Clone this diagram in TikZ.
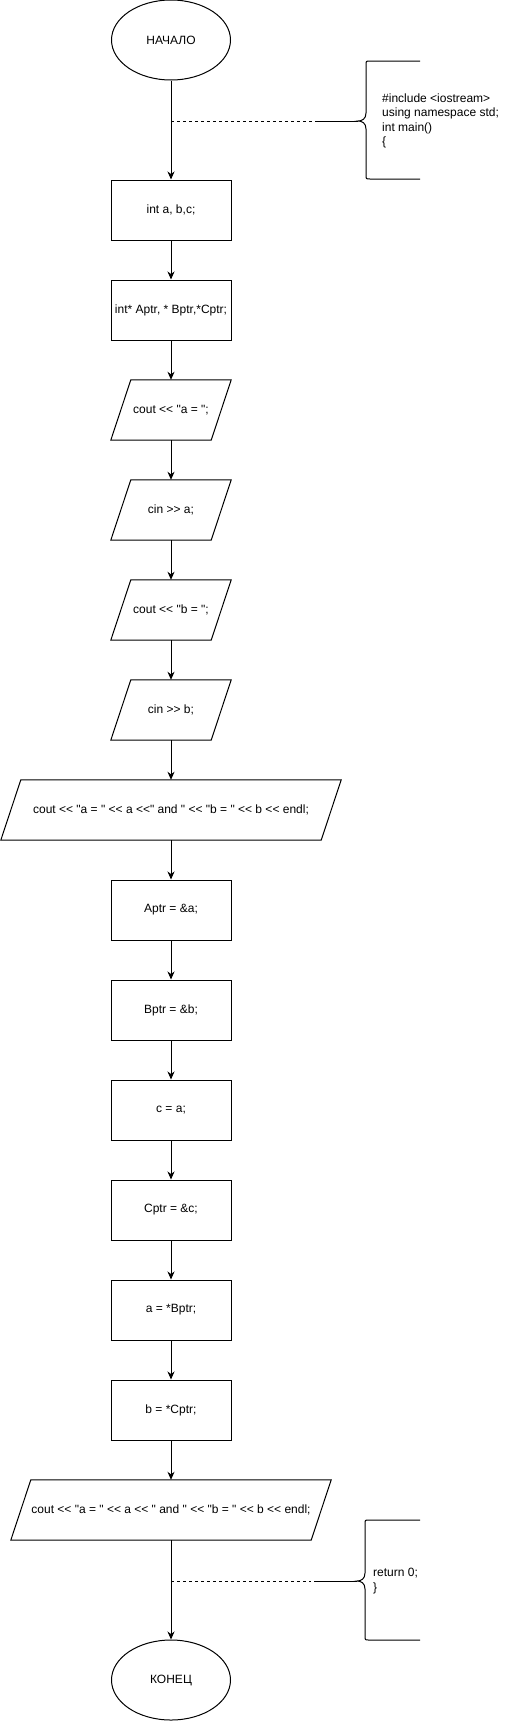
\documentclass[tikz,border=0pt]{standalone}
\usepackage{fontspec}
\newfontfamily\dfont{Liberation Sans}
\usetikzlibrary{shapes.geometric,arrows.meta}
\begin{document}
\begin{tikzpicture}[x=1pt,y=-1pt,
  every node/.style={font=\dfont\fontsize{12}{14.4}\selectfont, inner sep=0pt},
  proc/.style={draw, line width=1pt, minimum width=120pt, minimum height=60pt},
  term/.style={draw, ellipse, line width=1pt, minimum width=119pt, minimum height=80pt},
  io/.style={minimum width=120pt, minimum height=60pt},
  arr/.style={line width=1pt, -{Stealth[length=8pt,width=7pt,inset=2.5pt]}},
  ln/.style={line width=1pt},
  dsh/.style={line width=1pt, dash pattern=on 3pt off 3pt}]
\useasboundingbox (0,0) rectangle (531,1721);

\node[term] (start) at (171,40) {НАЧАЛО};
\node[proc] (s1) at (171,210) {int a, b,c;};
\node[proc] (s2) at (171,310) {int* Aptr, * Bptr,*Cptr;};
\node[io] (s3) at (171,410) {cout << "a = ";};
\node[io] (s4) at (171,510) {cin >> a;};
\node[io] (s5) at (171,610) {cout << "b = ";};
\node[io] (s6) at (171,710) {cin >> b;};
\node[io, minimum width=340pt] (s7) at (171,810) {cout << "a = " << a <<" and " << "b = " << b << endl;};
\node[proc] (s8) at (171,910) {Aptr = \&a;};
\node[proc] (s9) at (171,1010) {Bptr = \&b;};
\node[proc] (s10) at (171,1110) {c = a;};
\node[proc] (s11) at (171,1210) {Cptr = \&c;};
\node[proc] (s12) at (171,1310) {a = *Bptr;};
\node[proc] (s13) at (171,1410) {b = *Cptr;};
\node[io, minimum width=320pt] (s14) at (171,1510) {cout << "a = " << a << " and " << "b = " << b << endl;};
\node[term] (end) at (171,1680) {КОНЕЦ};

\foreach \n in {s3,s4,s5,s6,s7,s14}
  \draw[ln] ([xshift=20pt]\n.north west) -- (\n.north east) -- ([xshift=-20pt]\n.south east) -- (\n.south west) -- cycle;

\draw[arr] (start) -- (s1);
\foreach \a/\b in {s1/s2,s2/s3,s3/s4,s4/s5,s5/s6,s6/s7,s7/s8,s8/s9,s9/s10,s10/s11,s11/s12,s12/s13,s13/s14,s14/end}
  \draw[arr] (\a) -- (\b);

% top annotation
\coordinate (d1) at (171,121);
\coordinate (d1e) at (312,121);
\coordinate (b1s) at (315,121);
\coordinate (b1t) at (358,121);
\draw[dsh] (d1) -- (d1e);
\draw[ln] (b1s) -- (b1t);
\draw[ln] (420,61) -- (370,61) .. controls (366,61) .. (366,65) -- (366,113)
  .. controls (366,119) and (362,121) .. (b1t)
  .. controls (362,121) and (366,123) .. (366,129) -- (366,175)
  .. controls (366,179) .. (370,179) -- (420,179);
\node[anchor=west, align=left] (c1) at (382,121) {\#include <iostream>\\using namespace std;\\int main()\\\{};

% bottom annotation
\coordinate (d2) at (171,1581);
\coordinate (d2e) at (311,1581);
\coordinate (b2s) at (314,1581);
\coordinate (b2t) at (357,1581);
\draw[dsh] (d2) -- (d2e);
\draw[ln] (b2s) -- (b2t);
\draw[ln] (420,1520) -- (369,1520) .. controls (365,1520) .. (365,1524) -- (365,1573)
  .. controls (365,1579) and (361,1581) .. (b2t)
  .. controls (361,1581) and (365,1583) .. (365,1589) -- (365,1636)
  .. controls (365,1640) .. (369,1640) -- (420,1640);
\node[anchor=west, align=left] (c2) at (373,1581) {return 0;\\\}};
\end{tikzpicture}
\end{document}
